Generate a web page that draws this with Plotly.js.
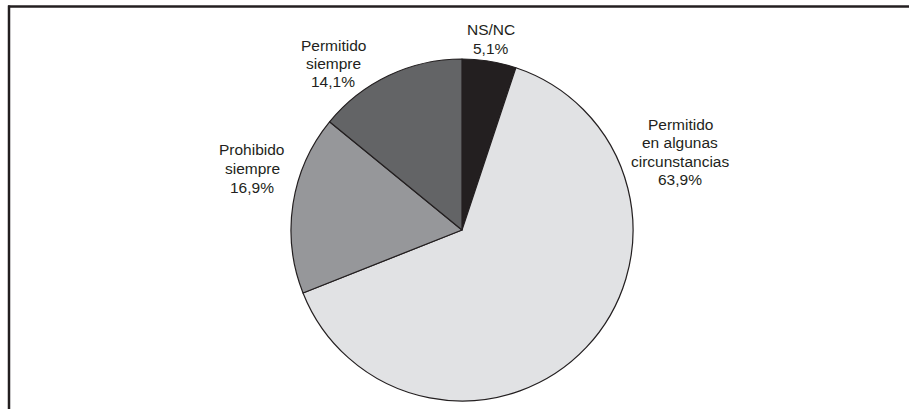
<!DOCTYPE html>
<html>
<head>
<meta charset="utf-8">
<script src="https://cdn.plot.ly/plotly-3.0.1.min.js"></script>
<style>
  html, body { margin: 0; padding: 0; background: #ffffff; }
  #chart { width: 909px; height: 409px; }
</style>
</head>
<body>
<div id="chart"></div>
<script>
// Opinion categories, clockwise from 12 o'clock
const categories = ['NS/NC', 'Permitido en algunas circunstancias', 'Prohibido siempre', 'Permitido siempre'];
const labelLines = [
  ['NS/NC'],
  ['Permitido', 'en algunas', 'circunstancias'],
  ['Prohibido', 'siempre'],
  ['Permitido', 'siempre']
];
const percentages = [5.1, 63.9, 16.9, 14.1];
const sliceColors = ['#231f20', '#e1e2e4', '#96979a', '#636466'];

const W = 909, H = 409;
// Pie centre and radius in pixels
const cx = 462, cy = 230, r = 171;

// Label anchor points: centre x and baseline of the first line, in pixels
const labelPos = [
  { x: 491, y: 33.5 },
  { x: 680, y: 128 },
  { x: 252, y: 154 },
  { x: 333, y: 49 }
];
const lineStep = 18.5;
const fontSize = 15.5;

const fmt = v => v.toFixed(1).replace('.', ',') + '%';

const trace = {
  type: 'pie',
  labels: categories,
  values: percentages,
  sort: false,
  direction: 'clockwise',
  rotation: 0,
  textinfo: 'none',
  hoverinfo: 'label+percent',
  marker: { colors: sliceColors, line: { color: '#231f20', width: 1.2 } },
  domain: {
    x: [(cx - r) / W, (cx + r) / W],
    y: [1 - (cy + r) / H, 1 - (cy - r) / H]
  },
  showlegend: false
};

// One annotation per text line so the line spacing can be set exactly
const annotations = [];
categories.forEach((c, i) => {
  const lines = labelLines[i].concat([fmt(percentages[i])]);
  lines.forEach((txt, k) => {
    const baseline = labelPos[i].y + k * lineStep;
    annotations.push({
      xref: 'paper', yref: 'paper',
      x: labelPos[i].x / W,
      y: 1 - (baseline + 6.5) / H,
      xanchor: 'center', yanchor: 'bottom',
      showarrow: false,
      text: txt,
      font: { family: 'Liberation Sans, Arial, sans-serif', size: fontSize, color: '#231f20' }
    });
  });
});

// Frame: top rule and left rule
const shapes = [
  { type: 'line', xref: 'paper', yref: 'paper', x0: 8 / W, x1: 1, y0: 1 - 6.5 / H, y1: 1 - 6.5 / H,
    line: { color: '#231f20', width: 2.5 } },
  { type: 'line', xref: 'paper', yref: 'paper', x0: 9 / W, x1: 9 / W, y0: 0, y1: 1 - 5.5 / H,
    line: { color: '#231f20', width: 2.5 } }
];

const layout = {
  width: W, height: H,
  margin: { l: 0, r: 0, t: 0, b: 0 },
  paper_bgcolor: '#ffffff',
  plot_bgcolor: '#ffffff',
  annotations: annotations,
  shapes: shapes
};

Plotly.newPlot('chart', [trace], layout, { displayModeBar: false, staticPlot: true });
</script>
</body>
</html>
